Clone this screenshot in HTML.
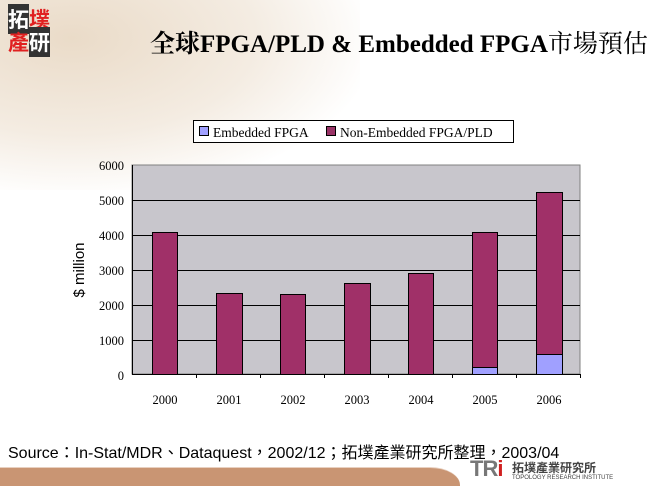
<!DOCTYPE html>
<html><head><meta charset="utf-8"><style>
body{margin:0;width:650px;height:485px;background:#fff;position:relative;overflow:hidden;font-family:"Liberation Serif","Noto Serif CJK SC",serif}
.t{position:absolute}
</style></head><body>
<div class="t" style="left:0;top:0;width:360px;height:190px;background:radial-gradient(ellipse at 20% 20%,#eadbc8 0%,#f4ece2 45%,rgba(255,255,255,0) 75%)"></div>
<div class="t" style="left:8px;top:8px;width:44px;height:48px;font:bold 21px/23px 'Noto Sans CJK TC',sans-serif;"><span style="background:#333;color:#fff">拓</span><span style="color:#e02020">墣</span><br><span style="color:#e02020">產</span><span style="background:#333;color:#fff">研</span></div>
<div class="t" style="left:150px;top:24px;font-size:25px;font-weight:bold;white-space:nowrap;font-family:'Liberation Serif','Noto Serif CJK SC',serif">全球FPGA/PLD &amp; Embedded FPGA<span style="font-weight:normal">市場預估</span></div>
<div class="t" style="left:0;top:467px;width:460px;height:18px;background:#c99573;border-top:1px solid #e8d0c0;border-top-right-radius:30px 18px"></div>
<div class="t" style="left:470px;top:456px;font:bold 22px 'Liberation Sans',sans-serif;color:#777;letter-spacing:-1px">TR<span style="color:#d02020">i</span></div>
<div class="t" style="left:512px;top:459px;font:bold 12px 'Noto Sans CJK TC',sans-serif;color:#444">拓墣產業研究所</div>
<div class="t" style="left:512px;top:475px;font:6px 'Liberation Sans',sans-serif;color:#444">TOPOLOGY RESEARCH INSTITUTE</div>
<div class="t" style="left:8px;top:439px;font:16px 'Liberation Sans','Noto Sans CJK TC',sans-serif;white-space:nowrap">Source：In-Stat/MDR、Dataquest，2002/12；拓墣產業研究所整理，2003/04</div>
<svg class="t" style="left:0;top:0" width="650" height="485">
<rect x="193.5" y="120.5" width="320" height="22" fill="#fff" stroke="#000"/>
<rect x="199.5" y="126.5" width="9" height="9" fill="#a0a0ff" stroke="#000"/>
<text x="213" y="137" font-size="13.5" font-family="Liberation Serif">Embedded FPGA</text>
<rect x="326.5" y="126.5" width="9" height="9" fill="#993366" stroke="#000"/>
<text x="340" y="137" font-size="13.5" font-family="Liberation Serif">Non-Embedded FPGA/PLD</text>
<rect x="132" y="165" width="448" height="209" fill="#c8c6cc" stroke="#808080"/>
<g stroke="#000" stroke-width="1">
<line x1="132" x2="580" y1="200.5" y2="200.5"/><line x1="132" x2="580" y1="235.5" y2="235.5"/><line x1="132" x2="580" y1="270.5" y2="270.5"/><line x1="132" x2="580" y1="305.5" y2="305.5"/><line x1="132" x2="580" y1="340.5" y2="340.5"/>
<line x1="132" x2="580" y1="374.5" y2="374.5"/><line x1="132.5" x2="132.5" y1="165" y2="374"/>
<line x1="196.5" x2="196.5" y1="374" y2="378"/><line x1="260.5" x2="260.5" y1="374" y2="378"/><line x1="324.5" x2="324.5" y1="374" y2="378"/><line x1="388.5" x2="388.5" y1="374" y2="378"/><line x1="452.5" x2="452.5" y1="374" y2="378"/><line x1="516.5" x2="516.5" y1="374" y2="378"/><line x1="580.5" x2="580.5" y1="374" y2="378"/>
</g>
<g fill="#a03068" stroke="#000">
<rect x="152.5" y="232.5" width="25" height="142"/>
<rect x="216.5" y="293.5" width="26" height="81"/>
<rect x="280.5" y="294.5" width="25" height="80"/>
<rect x="344.5" y="283.5" width="26" height="91"/>
<rect x="408.5" y="273.5" width="25" height="101"/>
<rect x="472.5" y="232.5" width="25" height="142"/>
<rect x="536.5" y="192.5" width="26" height="182"/>
</g>
<g fill="#a0a0ff" stroke="#000">
<rect x="472.5" y="367.5" width="25" height="7"/>
<rect x="536.5" y="354.5" width="26" height="20"/>
</g>
<g font-size="12.5" font-family="Liberation Serif" text-anchor="end">
<text x="124" y="170">6000</text><text x="124" y="205">5000</text><text x="124" y="240">4000</text><text x="124" y="275">3000</text><text x="124" y="310">2000</text><text x="124" y="345">1000</text><text x="124" y="380">0</text>
</g>
<g font-size="12.5" font-family="Liberation Serif" text-anchor="middle">
<text x="165" y="404">2000</text><text x="229" y="404">2001</text><text x="293" y="404">2002</text><text x="357" y="404">2003</text><text x="421" y="404">2004</text><text x="485" y="404">2005</text><text x="549" y="404">2006</text>
</g>
<text transform="translate(84,270) rotate(-90)" font-size="15" font-family="Liberation Sans" text-anchor="middle">$ million</text>
</svg>
</body></html>
